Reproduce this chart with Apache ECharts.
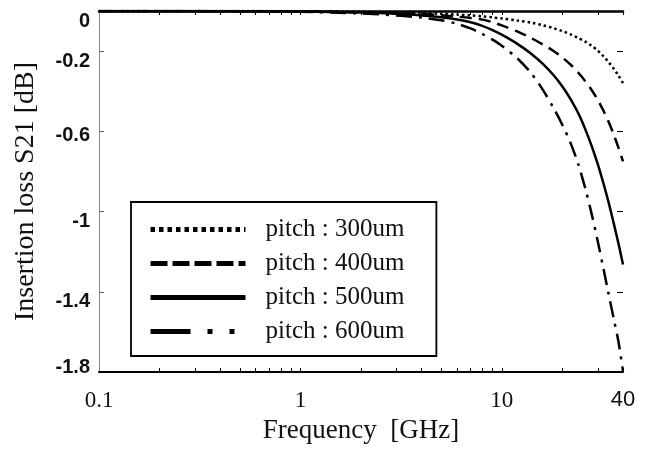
<!DOCTYPE html>
<html>
<head>
<meta charset="utf-8">
<script src="https://cdn.jsdelivr.net/npm/echarts@6/dist/echarts.min.js"></script>
<style>
  html, body { margin: 0; padding: 0; background: #fff; }
  #chart { width: 649px; height: 449px; }
</style>
</head>
<body>
<div id="chart"></div>
<script>
// frequency points [GHz]
const freqs = [0.1, 0.5, 1, 2, 3, 4, 5, 6, 7, 8, 9, 10, 12, 14, 16, 18, 20, 22, 24, 26, 28, 30, 32, 34, 36, 38, 40];

// S21 [dB], one array per pitch
const s21_300 = [0, 0, -0.001, -0.004, -0.007, -0.01, -0.014, -0.018, -0.022, -0.027, -0.032, -0.037, -0.048, -0.058, -0.071, -0.085, -0.1, -0.117, -0.135, -0.153, -0.174, -0.198, -0.226, -0.256, -0.288, -0.322, -0.36];
const s21_400 = [0, 0, -0.002, -0.006, -0.01, -0.015, -0.021, -0.028, -0.035, -0.043, -0.056, -0.072, -0.103, -0.135, -0.167, -0.198, -0.232, -0.268, -0.308, -0.35, -0.395, -0.444, -0.497, -0.555, -0.617, -0.682, -0.75];
const s21_500 = [0, -0.001, -0.003, -0.008, -0.014, -0.022, -0.031, -0.042, -0.056, -0.074, -0.095, -0.118, -0.165, -0.213, -0.264, -0.318, -0.376, -0.44, -0.51, -0.59, -0.675, -0.765, -0.86, -0.958, -1.06, -1.16, -1.264];
const s21_600 = [0, -0.001, -0.004, -0.012, -0.022, -0.033, -0.046, -0.064, -0.087, -0.114, -0.143, -0.173, -0.238, -0.31, -0.393, -0.48, -0.568, -0.66, -0.765, -0.885, -1.015, -1.15, -1.285, -1.415, -1.535, -1.65, -1.795];

const seriesNames = ['pitch : 300um', 'pitch : 400um', 'pitch : 500um', 'pitch : 600um'];

// axis ticks / labels
const xLabelValues = [0.1, 1, 10, 40];
const xTickValues = [0.2, 0.3, 0.4, 0.5, 0.6, 0.7, 0.8, 0.9, 1, 2, 3, 4, 5, 6, 7, 8, 9, 10, 20, 30, 40];
const yLabelValues = [0, -0.2, -0.6, -1, -1.4, -1.8];
const yTickValues = [-0.2, -0.6, -1, -1.4];

const SERIF = "'Liberation Serif', 'Times New Roman', serif";
const SANS = "'Liberation Sans', Arial, sans-serif";

const pair = function (ys) {
    return freqs.map(function (f, i) { return [f, ys[i]]; });
};

// dash patterns: plot line, legend line
const plotDash = [[2.5, 3], [12, 7], 'solid', [16, 7, 3, 7]];
const legendDash = [[4.5, 4], [17, 5], 'solid', [40, 17, 5, 17, 5, 17]];
const allData = [s21_300, s21_400, s21_500, s21_600];

// y labels in the scan sit a bit off their ticks
const yLabelStyle = function (s) {
    if (s === '-1.8') return '{up|' + s + '}';
    if (s === '-0.6') return '{dn1|' + s + '}';
    return '{dn|' + s + '}';
};
const yRich = {
    up: { fontFamily: SANS, fontWeight: 'bold', fontSize: 20, color: '#111', padding: [0, 0, 10, 0] },
    dn1: { fontFamily: SANS, fontWeight: 'bold', fontSize: 20, color: '#111', padding: [8, 0, 0, 0] },
    dn: { fontFamily: SANS, fontWeight: 'bold', fontSize: 20, color: '#111', padding: [20, 0, 0, 0] }
};

const chart = echarts.init(document.getElementById('chart'));

const option = {
    animation: false,
    backgroundColor: '#fff',
    grid: { left: 99, right: 26, top: 11, bottom: 76, containLabel: false },
    legend: {
        orient: 'vertical',
        left: 131,
        top: 202,
        padding: [15, 32, 12, 17],
        itemWidth: 95,
        itemHeight: 14,
        itemGap: 9,
        borderColor: '#000',
        borderWidth: 1.8,
        backgroundColor: '#fff',
        textStyle: {
            fontFamily: SERIF,
            fontSize: 25,
            lineHeight: 25,
            color: '#111',
            padding: [0, 0, 0, 15]
        },
        data: seriesNames.map(function (n, i) {
            return {
                name: n,
                itemStyle: { opacity: 0 },
                lineStyle: { color: '#000', width: 5, type: legendDash[i], cap: 'butt', opacity: 1 }
            };
        })
    },
    xAxis: [
        {
            type: 'log',
            logBase: 10,
            min: 0.1,
            max: 40,
            position: 'bottom',
            name: 'Frequency  [GHz]',
            nameLocation: 'middle',
            nameGap: 43,
            nameTextStyle: { fontFamily: SERIF, fontSize: 27, color: '#111' },
            axisLine: { show: true, onZero: false, lineStyle: { color: '#000', width: 2 } },
            axisTick: { show: true, inside: true, length: 4, customValues: xTickValues, lineStyle: { color: '#000', width: 1 } },
            axisLabel: {
                customValues: xLabelValues,
                margin: 17,
                fontFamily: SERIF,
                fontSize: 23,
                color: '#111',
                formatter: function (v) {
                    const s = String(+v.toFixed(1));
                    return s === '40' ? '{s|40}' : s;
                },
                rich: { s: { fontFamily: SANS, fontSize: 22, color: '#111' } }
            },
            splitLine: { show: false },
            minorTick: { show: false }
        },
        {
            type: 'log',
            logBase: 10,
            min: 0.1,
            max: 40,
            position: 'top',
            axisLine: { show: true, onZero: false, lineStyle: { color: '#000', width: 2.5 } },
            axisTick: { show: true, inside: true, length: 4, customValues: xTickValues, lineStyle: { color: '#000', width: 1 } },
            axisLabel: { show: false },
            splitLine: { show: false }
        }
    ],
    yAxis: [
        {
            type: 'value',
            min: -1.8,
            max: 0,
            position: 'left',
            name: 'Insertion loss S21 [dB]',
            nameLocation: 'middle',
            nameGap: 59,
            nameTextStyle: { fontFamily: SERIF, fontSize: 28, color: '#111' },
            axisLine: { show: true, onZero: false, lineStyle: { color: '#888', width: 1 } },
            axisTick: { show: true, inside: true, length: 5, customValues: yTickValues, lineStyle: { color: '#666', width: 1 } },
            axisLabel: {
                customValues: yLabelValues,
                margin: 9,
                fontFamily: SANS,
                fontWeight: 'bold',
                fontSize: 20,
                color: '#111',
                formatter: function (v) { return yLabelStyle(String(+v.toFixed(1))); },
                rich: yRich
            },
            splitLine: { show: false }
        },
        {
            type: 'value',
            min: -1.8,
            max: 0,
            position: 'right',
            axisLine: { show: false },
            axisTick: { show: true, inside: true, length: 6, customValues: yTickValues, lineStyle: { color: '#000', width: 1 } },
            axisLabel: { show: false },
            splitLine: { show: false }
        }
    ],
    series: seriesNames.map(function (n, i) {
        return {
            name: n,
            type: 'line',
            xAxisIndex: 0,
            yAxisIndex: 0,
            smooth: 0.3,
            symbol: 'none',
            data: pair(allData[i]),
            lineStyle: { color: '#000', width: 2.5, type: plotDash[i] },
            z: 3
        };
    })
};

chart.setOption(option);
</script>
</body>
</html>
